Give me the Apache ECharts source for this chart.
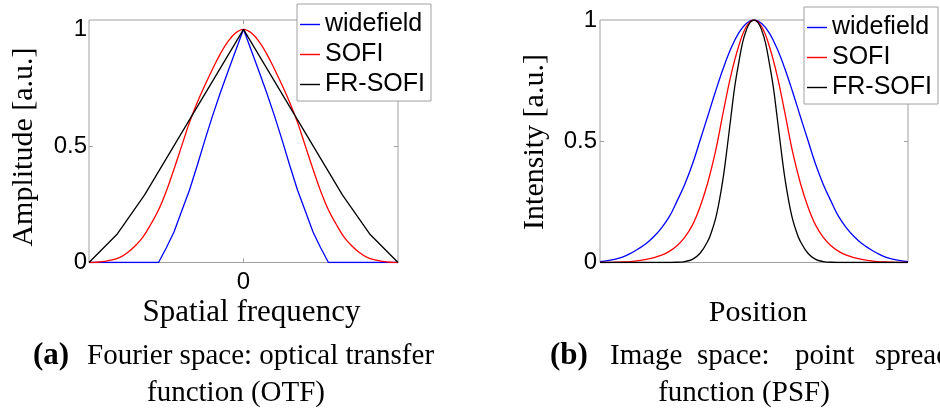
<!DOCTYPE html>
<html>
<head>
<meta charset="utf-8">
<script src="https://cdn.jsdelivr.net/npm/echarts@6/dist/echarts.min.js"></script>
<style>
  html, body { margin: 0; padding: 0; background: #fff; }
  #chart { width: 940px; height: 419px; }
</style>
</head>
<body>
<div id="chart"></div>
<script>
// ---- (a) optical transfer function, spatial frequency normalised to [-1, 1] ----
const otfX = [-1, -0.95, -0.9, -0.85, -0.8, -0.75, -0.7, -0.65, -0.6, -0.55, -0.5,
  -0.45, -0.4, -0.35, -0.3, -0.25, -0.2, -0.15, -0.1, -0.05, 0,
  0.05, 0.1, 0.15, 0.2, 0.25, 0.3, 0.35, 0.4, 0.45, 0.5,
  0.55, 0.6, 0.65, 0.7, 0.75, 0.8, 0.85, 0.9, 0.95, 1];
const otfWidefield = [0, 0, 0, 0, 0, 0, 0, 0, 0, 0, 0.062,
  0.131, 0.221, 0.31, 0.415, 0.525, 0.63, 0.728, 0.82, 0.91, 1,
  0.91, 0.82, 0.728, 0.63, 0.525, 0.415, 0.31, 0.221, 0.131, 0.062,
  0, 0, 0, 0, 0, 0, 0, 0, 0, 0];
const otfSofi = [0, 0.001, 0.005, 0.011, 0.022, 0.043, 0.072, 0.11, 0.164, 0.225, 0.305,
  0.4, 0.5, 0.6, 0.685, 0.76, 0.83, 0.895, 0.948, 0.985, 1,
  0.985, 0.948, 0.895, 0.83, 0.76, 0.685, 0.6, 0.5, 0.4, 0.305,
  0.225, 0.164, 0.11, 0.072, 0.043, 0.022, 0.011, 0.005, 0.001, 0];
const otfFrX = [-1, -0.82, -0.64, -0.32, 0, 0.32, 0.64, 0.82, 1];
const otfFrSofi = [0, 0.12, 0.29, 0.645, 1, 0.645, 0.29, 0.12, 0];

// ---- (b) point spread function, position normalised to [-1, 1] ----
const psfX = otfX;
const psfWidefield = [0.004, 0.008, 0.014, 0.023, 0.038, 0.057, 0.078, 0.107, 0.143, 0.189, 0.253,
  0.322, 0.405, 0.504, 0.604, 0.705, 0.8, 0.882, 0.946, 0.986, 1,
  0.986, 0.946, 0.882, 0.8, 0.705, 0.604, 0.504, 0.405, 0.322, 0.253,
  0.189, 0.143, 0.107, 0.078, 0.057, 0.038, 0.023, 0.014, 0.008, 0.004];
const psfSofi = [0, 0, 0.001, 0.002, 0.004, 0.0075, 0.013, 0.02, 0.03, 0.046, 0.069,
  0.104, 0.154, 0.23, 0.33, 0.458, 0.619, 0.772, 0.891, 0.972, 1,
  0.972, 0.891, 0.772, 0.619, 0.458, 0.33, 0.23, 0.154, 0.104, 0.069,
  0.046, 0.03, 0.02, 0.013, 0.0075, 0.004, 0.002, 0.001, 0, 0];
const psfFrX = [-1, -0.75, -0.6, -0.5, -0.45, -0.4, -0.35, -0.3, -0.275, -0.25, -0.225, -0.2,
  -0.175, -0.15, -0.125, -0.1, -0.075, -0.05, -0.025, 0,
  0.025, 0.05, 0.075, 0.1, 0.125, 0.15, 0.175, 0.2, 0.225, 0.25, 0.275, 0.3,
  0.35, 0.4, 0.45, 0.5, 0.6, 0.75, 1];
const psfFrSofi = [0, 0, 0, 0.001, 0.004, 0.013, 0.038, 0.088, 0.128, 0.18, 0.255, 0.35,
  0.47, 0.6, 0.725, 0.82, 0.905, 0.958, 0.99, 1,
  0.99, 0.958, 0.905, 0.82, 0.725, 0.6, 0.47, 0.35, 0.255, 0.18, 0.128, 0.088,
  0.038, 0.013, 0.004, 0.001, 0, 0, 0];

const seriesNames = ['widefield', 'SOFI', 'FR-SOFI'];
const seriesColors = ['#0000ff', '#ff0000', '#000000'];
const yTicks = [0, 0.5, 1];
const otfXTicks = [0];

const sans = '"Liberation Sans", Arial, sans-serif';
const serif = '"Liberation Serif", "Times New Roman", serif';
const boxGrey = '#a0a0a0';

const zip = (xs, ys) => xs.map((x, i) => [x, ys[i]]);

function lineSeries(name, idx, data, smooth, axis) {
  return {
    name: name, type: 'line', data: data,
    xAxisIndex: axis.x, yAxisIndex: axis.y,
    symbol: 'none', smooth: smooth, animation: false,
    lineStyle: { color: seriesColors[idx], width: 1.3 },
    itemStyle: { color: seriesColors[idx] }
  };
}

function xAx(grid, pos, ticks, labels) {
  return {
    type: 'value', gridIndex: grid, position: pos, min: -1, max: 1,
    axisLine: { show: false, onZero: false },
    splitLine: { show: false },
    axisTick: ticks ? { show: true, inside: true, length: 4, customValues: ticks,
      lineStyle: { color: boxGrey } } : { show: false },
    axisLabel: labels ? { show: true, customValues: labels, margin: 8,
      fontFamily: sans, fontSize: 24, color: '#000' } : { show: false }
  };
}

function yAx(grid, pos, max, labels, margin) {
  return {
    type: 'value', gridIndex: grid, position: pos, min: 0, max: max,
    axisLine: { show: false, onZero: false },
    splitLine: { show: false },
    axisTick: { show: true, inside: true, length: 4, customValues: [0.5],
      lineStyle: { color: boxGrey } },
    axisLabel: labels ? { show: true, customValues: labels, margin: margin,
      fontFamily: sans, fontSize: 24, color: '#000' } : { show: false }
  };
}

function legendAt(left, top) {
  return {
    left: left, top: top, orient: 'vertical', data: seriesNames,
    selectedMode: false, icon: 'rect', itemWidth: 20, itemHeight: 1.4, itemGap: 5,
    padding: [8, 6, 4, 3],
    backgroundColor: '#fff', borderColor: boxGrey, borderWidth: 1,
    textStyle: { fontFamily: sans, fontSize: 25, color: '#000', lineHeight: 25 }
  };
}

function label(text, x, y, opts) {
  opts = opts || {};
  return {
    type: 'text', x: x, y: y, rotation: opts.rotation || 0, silent: true,
    style: {
      text: text, fill: '#000',
      font: (opts.bold ? 'bold ' : '') + (opts.size || 30) + 'px ' + serif,
      textAlign: opts.align || 'center', align: opts.align || 'center',
      textVerticalAlign: 'middle', verticalAlign: 'middle'
    }
  };
}

const chart = echarts.init(document.getElementById('chart'), null, { renderer: 'canvas' });

chart.setOption({
  backgroundColor: '#fff',
  animation: false,
  grid: [
    { left: 89, top: 20, width: 309, height: 242.5, show: true,
      borderColor: boxGrey, borderWidth: 1, backgroundColor: 'transparent' },
    { left: 600, top: 20, width: 308, height: 242.5, show: true,
      borderColor: boxGrey, borderWidth: 1, backgroundColor: 'transparent' }
  ],
  xAxis: [
    xAx(0, 'bottom', otfXTicks, otfXTicks),
    xAx(0, 'top', otfXTicks, null),
    xAx(1, 'bottom', null, null)
  ],
  yAxis: [
    yAx(0, 'left', 1.04, yTicks, 2),
    yAx(0, 'right', 1.04, null, 0),
    yAx(1, 'left', 1, yTicks, 3),
    yAx(1, 'right', 1, null, 0)
  ],
  legend: [legendAt(297, 4), legendAt(804, 7)],
  series: [
    lineSeries('widefield', 0, zip(otfX, otfWidefield), false, { x: 0, y: 0 }),
    lineSeries('SOFI', 1, zip(otfX, otfSofi), 0.4, { x: 0, y: 0 }),
    lineSeries('FR-SOFI', 2, zip(otfFrX, otfFrSofi), false, { x: 0, y: 0 }),
    lineSeries('widefield', 0, zip(psfX, psfWidefield), 0.4, { x: 2, y: 2 }),
    lineSeries('SOFI', 1, zip(psfX, psfSofi), 0.4, { x: 2, y: 2 }),
    lineSeries('FR-SOFI', 2, zip(psfFrX, psfFrSofi), 0.4, { x: 2, y: 2 })
  ],
  graphic: [
    label('Amplitude [a.u.]', 24, 147, { rotation: Math.PI / 2 }),
    label('Intensity [a.u.]', 535, 142, { rotation: Math.PI / 2 }),
    label('Spatial frequency', 251.5, 313, { size: 31 }),
    label('Position', 758, 313),
    label('(a)', 33, 356, { bold: true, align: 'left', size: 31 }),
    label('Fourier space: optical transfer', 87, 356, { align: 'left', size: 29 }),
    label('function (OTF)', 236, 393, { size: 29 }),
    label('(b)', 550, 356, { bold: true, align: 'left', size: 31 }),
    label('Image', 610, 356, { align: 'left', size: 29 }),
    label('space:', 697, 356, { align: 'left', size: 29 }),
    label('point', 795, 356, { align: 'left', size: 29 }),
    label('spread', 875, 356, { align: 'left', size: 29 }),
    label('function (PSF)', 744, 393, { size: 29 })
  ]
});
</script>
</body>
</html>
